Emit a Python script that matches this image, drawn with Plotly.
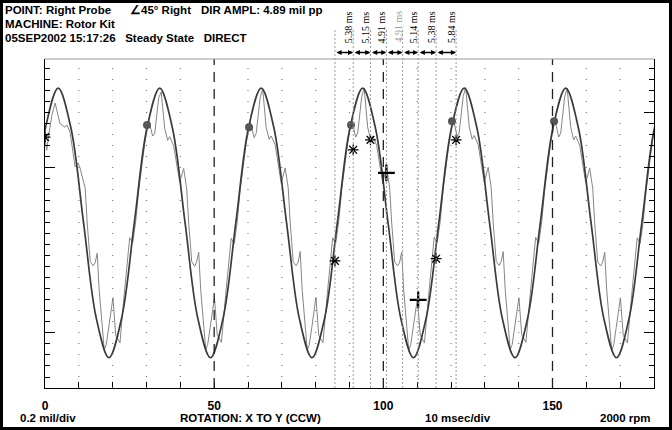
import plotly.graph_objects as go

# ---------------- data ----------------
# filtered (1X) waveform: sampled points, time in ms, amplitude in mil
sine_t = [-3.6, 0.15, 3.9, 7.65, 11.4, 15.15, 18.9, 22.65, 26.4, 30.15, 33.9, 37.65,
          41.4, 45.15, 48.9, 52.65, 56.4, 60.15, 63.9, 67.65, 71.4, 75.15, 78.9, 82.65,
          86.4, 90.15, 93.9, 97.65, 101.4, 105.15, 108.9, 112.65, 116.4, 120.15, 123.9,
          127.65, 131.4, 135.15, 138.9, 142.65, 146.4, 150.15, 153.9, 157.65, 161.4,
          165.15, 168.9, 172.65, 176.4, 180.15, 183.9]
sine_v = [0.0, 1.73, 2.45, 1.73, 0.0, -1.73, -2.45, -1.73,
          0.0, 1.73, 2.45, 1.73, 0.0, -1.73, -2.45, -1.73,
          0.0, 1.73, 2.45, 1.73, 0.0, -1.73, -2.45, -1.73,
          0.0, 1.73, 2.45, 1.73, 0.0, -1.73, -2.45, -1.73,
          0.0, 1.73, 2.45, 1.73, 0.0, -1.73, -2.45, -1.73,
          0.0, 1.73, 2.45, 1.73, 0.0, -1.73, -2.45, -1.73,
          0.0, 1.73, 2.45]

# unfiltered (direct) waveform
raw_t = [0.0, 0.5, 1.1, 2.0, 3.0, 4.4, 5.9, 6.5, 7.4, 8.9, 9.75, 10.35, 11.88, 12.47, 13.36,
         14.25, 14.84, 15.43, 16.02, 17.50, 18.09, 18.83, 20.08, 20.90, 22.15, 23.41, 24.59,
         25.03, 25.92, 26.81, 27.69, 28.58, 29.47, 30.65, 31.83, 32.42, 33.60, 34.34, 35.38,
         36.26, 36.86, 38.04, 39.81, 40.99, 41.88, 42.47, 43.36, 44.25, 44.84, 45.43, 46.02,
         47.50, 48.09, 48.83, 50.08, 50.90, 52.15, 53.41, 54.59,
         55.03, 55.92, 56.81, 57.69, 58.58, 59.47, 60.65, 61.83, 62.42, 63.60, 64.34, 65.38,
         66.26, 66.86, 68.04, 69.81, 70.99, 71.88, 72.47, 73.36, 74.25, 74.84, 75.43, 76.02,
         77.50, 78.09, 78.83, 80.08, 80.90, 82.15, 83.41, 84.59,
         85.03, 85.92, 86.81, 87.69, 88.58, 89.47, 90.65, 91.83, 92.42, 93.60, 94.34, 95.38,
         96.26, 96.86, 98.04, 99.81, 100.99, 101.88, 102.47, 103.36, 104.25, 104.84, 105.43,
         106.02, 107.50, 108.09, 108.83, 110.08, 110.90, 112.15, 113.41, 114.59,
         115.03, 115.92, 116.81, 117.69, 118.58, 119.47, 120.65, 121.83, 122.42, 123.60,
         124.34, 125.38, 126.26, 126.86, 128.04, 129.81, 130.99, 131.88, 132.47, 133.36,
         134.25, 134.84, 135.43, 136.02, 137.50, 138.09, 138.83, 140.08, 140.90, 142.15,
         143.41, 144.59,
         145.03, 145.92, 146.81, 147.69, 148.58, 149.47, 150.65, 151.83, 152.42, 153.60,
         154.34, 155.38, 156.26, 156.86, 158.04, 159.81, 160.99, 161.88, 162.47, 163.36,
         164.25, 164.84, 165.43, 166.02, 167.50, 168.09, 168.83, 170.08, 170.90, 172.15,
         173.41, 174.59,
         175.03, 175.92, 176.81, 177.69, 178.58, 179.47, 180.65]
raw_v = [1.52, 1.32, 1.60, 1.95, 2.18, 1.81, 1.74, 1.78, 1.65, 1.02, 1.09, 1.00, 0.63, 0.00, -0.70,
         -0.78, -0.72, -0.55, -1.22, -2.30, -2.22, -1.90, -1.36, -2.04, -2.18, -1.30, -0.49,
         -0.27, -0.36, 0.03, 0.58, 1.05, 1.44, 1.86, 1.58, 1.62, 2.27, 2.38, 1.72,
         1.50, 1.57, 1.40, 0.74, 0.99, 0.62, 0.00, -0.70, -0.79, -0.70, -0.53, -1.21,
         -2.30, -2.21, -1.90, -1.36, -2.03, -2.17, -1.30, -0.50,
         -0.28, -0.38, 0.02, 0.60, 1.04, 1.45, 1.84, 1.55, 1.63, 2.28, 2.44, 1.73,
         1.52, 1.58, 1.42, 0.72, 1.00, 0.64, 0.01, -0.71, -0.78, -0.71, -0.52, -1.22,
         -2.31, -2.22, -1.91, -1.35, -2.04, -2.18, -1.31, -0.49,
         -0.27, -0.37, 0.02, 0.60, 1.05, 1.46, 1.88, 1.56, 1.63, 2.29, 2.45, 1.74,
         1.51, 1.58, 1.41, 0.73, 1.00, 0.63, 0.00, -0.71, -0.78, -0.71, -0.53,
         -1.22, -2.31, -2.22, -1.90, -1.37, -2.04, -2.18, -1.31, -0.49,
         -0.26, -0.36, 0.03, 0.61, 1.06, 1.47, 1.90, 1.57, 1.64, 2.30, 2.46,
         1.75, 1.52, 1.59, 1.42, 0.74, 1.01, 0.64, 0.01, -0.70,
         -0.77, -0.70, -0.52, -1.21, -2.30, -2.21, -1.89, -1.36, -2.03, -2.17,
         -1.30, -0.48,
         -0.26, -0.37, 0.02, 0.60, 1.05, 1.46, 1.89, 1.56, 1.63, 2.29,
         2.45, 1.74, 1.51, 1.58, 1.41, 0.73, 1.00, 0.63, 0.00, -0.71,
         -0.78, -0.71, -0.53, -1.22, -2.31, -2.22, -1.90, -1.36, -2.04, -2.18,
         -1.31, -0.49,
         -0.27, -0.37, 0.02, 0.60, 1.05, 1.45, 1.90]

# once-per-turn (Keyphasor) dots
kp_t = [30.15, 60.3, 90.45, 120.3, 150.46]
kp_v = [1.78, 1.74, 1.78, 1.85, 1.85]

# cursor markers
ast_t = [0.0, 85.7, 91.1, 96.2, 115.6, 121.5]
ast_v = [1.56, -0.69, 1.33, 1.51, -0.65, 1.51]
plus_t = [100.9, 110.3]
plus_v = [0.91, -1.40]

# cursor lines and interval labels
cursor_t = [85.7, 91.1, 96.2, 100.9, 105.7, 110.3, 115.6, 121.5]
interval_labels = ["5.38 ms", "5.15 ms", "4.91 ms", "4.91 ms", "5.14 ms", "5.38 ms", "5.84 ms"]

x_tickvals = [0, 50, 100, 150]
x_ticktext = ["0", "50", "100", "150"]

# ---------------- layout helpers ----------------
W, H = 672, 430
L, R, T, B = 45, 18, 59, 42
PW, PH = W - L - R, H - T - B


def px2x(px):
    return (px - L) / PW


def py2y(py):
    return (H - B - py) / PH


YR = [-3.0, 2.98]
XR = [0, 180]
SANS = "Arial, Liberation Sans, sans-serif"
SERIF = "Times New Roman, Liberation Serif, serif"

fig = go.Figure()

fig.add_trace(go.Scatter(x=raw_t, y=raw_v, mode="lines",
                         line=dict(color="#858585", width=1.0), hoverinfo="skip"))
fig.add_trace(go.Scatter(x=sine_t, y=sine_v, mode="lines",
                         line=dict(color="#3a3a3a", width=1.7, shape="spline", smoothing=1.0),
                         hoverinfo="skip"))
fig.add_trace(go.Scatter(x=kp_t, y=kp_v, mode="markers",
                         marker=dict(symbol="circle", size=8, color="#555555")))
fig.add_trace(go.Scatter(x=ast_t, y=ast_v, mode="markers",
                         marker=dict(symbol="asterisk-open", size=9, color="black",
                                     line=dict(color="black", width=1.3))))
fig.add_trace(go.Scatter(x=plus_t, y=plus_v, mode="markers",
                         marker=dict(symbol="cross-thin-open", size=12, color="black",
                                     line=dict(color="black", width=2.2))))
# trace for the right-hand axis
fig.add_trace(go.Scatter(x=[None], y=[None], yaxis="y2", mode="lines"))

shapes = []
# dotted vertical grid every 10 ms, dashed every 50 ms
for gx in range(10, 180, 10):
    if gx % 50 == 0:
        shapes.append(dict(type="line", xref="x", yref="y", x0=gx, x1=gx, y0=YR[0], y1=YR[1],
                           line=dict(color="#222222", width=1.3, dash="10px,7px")))
    else:
        shapes.append(dict(type="line", xref="x", yref="y", x0=gx, x1=gx, y0=YR[0], y1=YR[1],
                           line=dict(color="#777777", width=1.2, dash="1px,10px")))
# cursor lines
for ct in cursor_t:
    shapes.append(dict(type="line", xref="x", yref="paper", x0=ct, x1=ct, y0=0, y1=py2y(28),
                       line=dict(color="#9a9a9a", width=1, dash="2px,2px")))
# top frame line (thin grey)
shapes.append(dict(type="line", xref="paper", yref="paper", x0=0, x1=1, y0=1, y1=1,
                   line=dict(color="#999999", width=1)))
# outer black border
shapes.append(dict(type="rect", xref="paper", yref="paper",
                   x0=px2x(1.5), x1=px2x(W - 1.5), y0=py2y(H - 1.5), y1=py2y(1.5),
                   line=dict(color="black", width=3)))

ann = []


def txt(text, px, py, anchor="left", size=11.5, family=SANS, color="black", angle=0):
    ann.append(dict(text=text, x=px2x(px), y=py2y(py), xref="paper", yref="paper",
                    xanchor=anchor, yanchor="middle", showarrow=False, textangle=angle,
                    font=dict(family=family, size=size, color=color)))


txt("<b>POINT: Right Probe</b>", 3, 10)
txt("<b>\u222045\u00b0 Right</b>", 128, 10)
txt("<b>DIR AMPL: 4.89 mil pp</b>", 199, 10)
txt("<b>MACHINE: Rotor Kit</b>", 3, 24)
txt("<b>05SEP2002 15:17:26&nbsp;&nbsp;&nbsp;Steady State&nbsp;&nbsp;&nbsp;DIRECT</b>", 3, 38)

txt("<b>0.2 mil/div</b>", 18, 418)
txt("<b>ROTATION: X TO Y (CCW)</b>", 250, 418, anchor="center")
txt("<b>10 msec/div</b>", 458, 418, anchor="center")
txt("<b>2000 rpm</b>", 653, 418, anchor="right")

# interval labels and double arrows
for i, lab in enumerate(interval_labels):
    ann.append(dict(text=lab, x=cursor_t[i + 1], y=py2y(27), xref="x", yref="paper",
                    xshift=-4, xanchor="center", yanchor="middle", showarrow=False,
                    textangle=-90,
                    font=dict(family=SERIF, size=10,
                              color="#999999" if i == 3 else "black")))
    ann.append(dict(text="", x=cursor_t[i + 1], y=py2y(52.5), xref="x", yref="paper",
                    ax=cursor_t[i], axref="x", ay=0, ayref="pixel",
                    showarrow=True, arrowside="end+start", arrowhead=2, startarrowhead=2,
                    arrowsize=0.8, startarrowsize=0.8, arrowwidth=1.3, arrowcolor="black",
                    standoff=0, startstandoff=0))

fig.update_layout(
    width=W, height=H, margin=dict(l=L, r=R, t=T, b=B),
    paper_bgcolor="white", plot_bgcolor="white", showlegend=False,
    shapes=shapes, annotations=ann,
    xaxis=dict(range=XR, showline=True, linecolor="black", linewidth=1.3,
               ticks="inside", ticklen=6, tickwidth=1, tickcolor="black",
               tickvals=x_tickvals, ticktext=["<b>%s</b>" % t for t in x_ticktext],
               tickfont=dict(family=SANS, size=12, color="black"),
               ticklabelstandoff=6,
               minor=dict(dtick=10, tick0=0, ticks="inside", ticklen=6, tickcolor="black"),
               showgrid=False, zeroline=False, fixedrange=True),
    yaxis=dict(range=YR, showline=True, linecolor="black", linewidth=1.3,
               ticks="inside", ticklen=10, tickcolor="black", tickvals=[-2, 1],
               showticklabels=False,
               minor=dict(dtick=0.2, tick0=0, ticks="inside", ticklen=5, tickcolor="black"),
               showgrid=False, zeroline=False),
    yaxis2=dict(range=YR, overlaying="y", side="right", showline=True, linecolor="black",
                linewidth=1.3, ticks="inside", ticklen=10, tickcolor="black", dtick=1, tick0=0,
                showticklabels=False,
                minor=dict(dtick=0.2, tick0=0, ticks="inside", ticklen=5, tickcolor="black"),
                showgrid=False, zeroline=False),
)

fig.write_html("out.html")
